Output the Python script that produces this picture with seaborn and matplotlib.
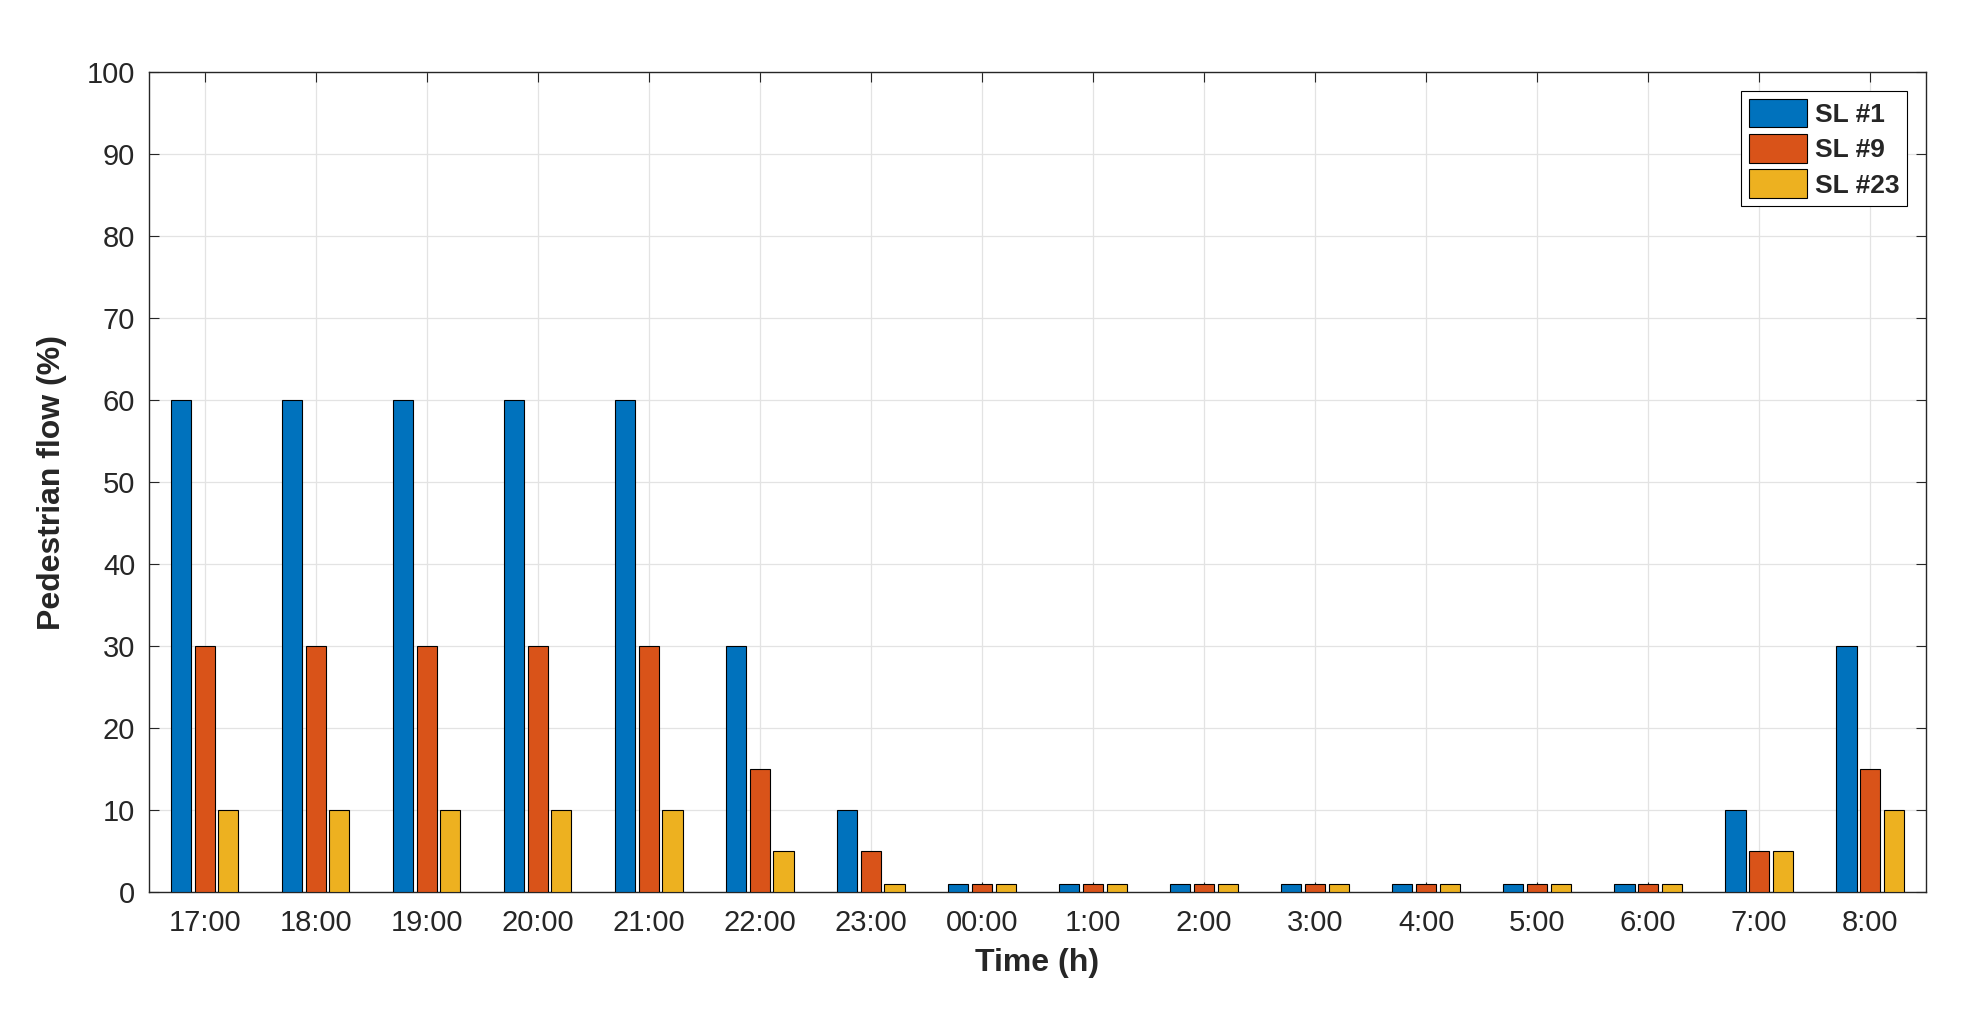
import pandas as pd
import matplotlib.pyplot as plt
import seaborn as sns

times = ["17:00", "18:00", "19:00", "20:00", "21:00", "22:00", "23:00", "00:00",
         "1:00", "2:00", "3:00", "4:00", "5:00", "6:00", "7:00", "8:00"]
sl1 = [60, 60, 60, 60, 60, 30, 10, 1, 1, 1, 1, 1, 1, 1, 10, 30]
sl9 = [30, 30, 30, 30, 30, 15, 5, 1, 1, 1, 1, 1, 1, 1, 5, 15]
sl23 = [10, 10, 10, 10, 10, 5, 1, 1, 1, 1, 1, 1, 1, 1, 5, 10]
series = ["SL #1", "SL #9", "SL #23"]

df = pd.DataFrame({
    "time": times * 3,
    "flow": sl1 + sl9 + sl23,
    "series": [s for s in series for _ in times],
})

sns.set_style("ticks")
plt.rcParams["font.family"] = ["Liberation Sans", "DejaVu Sans"]

fig = plt.figure(figsize=(19.8, 10.17), dpi=100)
ax = fig.add_axes([0.0753, 0.123, 0.8973, 0.806])

palette = {"SL #1": "#0072BD", "SL #9": "#D95319", "SL #23": "#EDB120"}
sns.barplot(data=df, x="time", y="flow", hue="series", order=times,
            hue_order=series, palette=palette, width=0.64, gap=0.15,
            edgecolor="black", linewidth=0.8, saturation=1, ax=ax, zorder=3)

ax.set_ylim(0, 100)
ax.set_xlim(-0.5, len(times) - 0.5)
ax.set_yticks(range(0, 101, 10))
ax.grid(True, color="#e3e3e3", linewidth=0.9, zorder=0)
ax.set_axisbelow(True)
ax.tick_params(direction="in", labelsize=21, length=7, top=True, right=True,
               labelcolor="#262626")
ax.tick_params(axis="x", pad=12)
ax.tick_params(axis="y", pad=10)
for s in ax.spines.values():
    s.set_color("#262626")
    s.set_linewidth(1.0)
ax.set_xlabel("Time (h)", fontsize=23, fontweight="bold", color="#262626", labelpad=8)
ax.set_ylabel("Pedestrian flow (%)", fontsize=23, fontweight="bold", color="#262626",
              labelpad=14)

leg = ax.legend(loc="upper right", frameon=True, fancybox=False,
                edgecolor="black", framealpha=1, handlelength=2.2,
                handleheight=1.3, borderpad=0.3, labelspacing=0.25,
                handletextpad=0.3, borderaxespad=0.7, prop={"weight": "bold", "size": 19})
leg.get_frame().set_linewidth(0.8)

fig.savefig("out.png", dpi=100)
